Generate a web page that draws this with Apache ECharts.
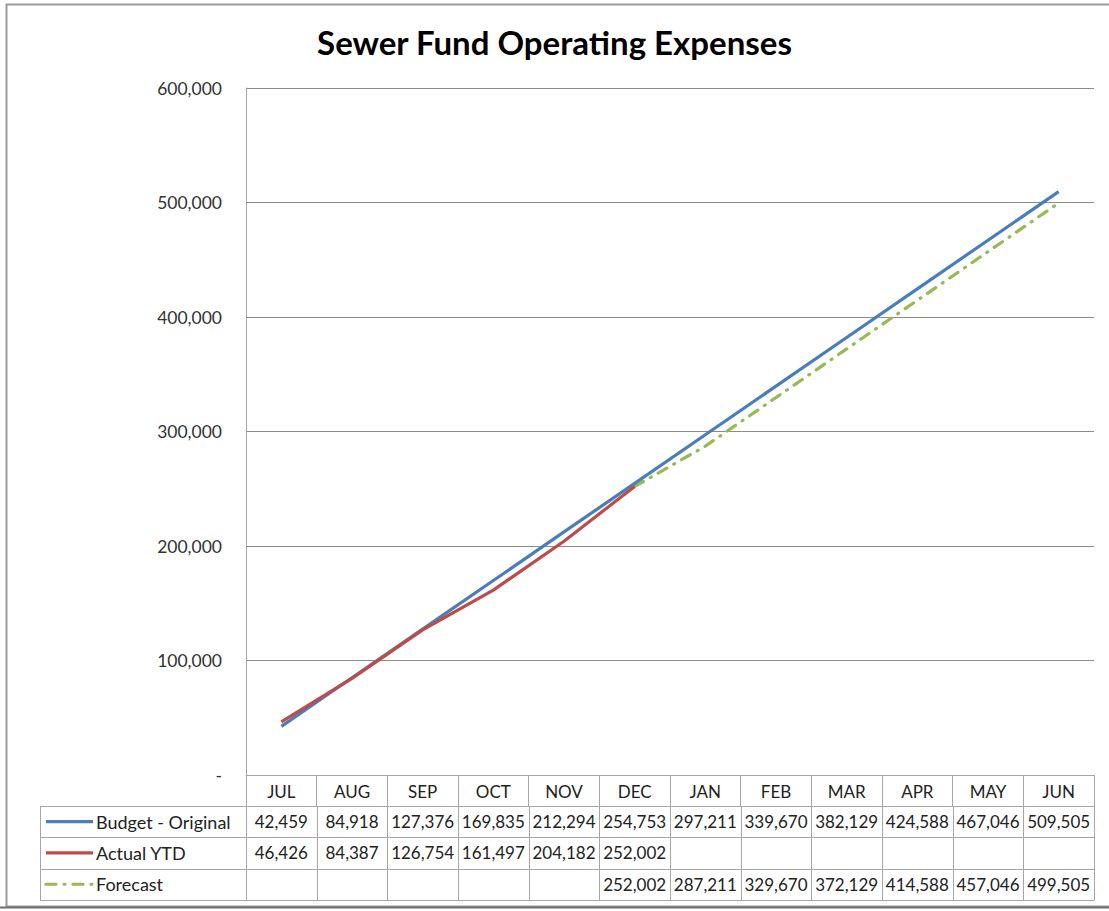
<!DOCTYPE html>
<html>
<head>
<meta charset="utf-8">
<script src="https://cdn.jsdelivr.net/npm/echarts@6/dist/echarts.min.js"></script>
<style>
html,body{margin:0;padding:0;background:#fff;}
#main{width:1109px;height:911px;}
</style>
</head>
<body>
<div id="main"></div>
<script>
var categories = ['JUL','AUG','SEP','OCT','NOV','DEC','JAN','FEB','MAR','APR','MAY','JUN'];
var budget = [42459,84918,127376,169835,212294,254753,297211,339670,382129,424588,467046,509505];
var actual = [46426,84387,126754,161497,204182,252002,null,null,null,null,null,null];
var forecast = [null,null,null,null,null,252002,287211,329670,372129,414588,457046,499505];
var seriesNames = ['Budget - Original','Actual YTD','Forecast'];
var yTicks = [0,100000,200000,300000,400000,500000,600000];

var FONT = 'Lato, "Open Sans", sans-serif';
var colors = ['#4A7EBB','#BE4B48','#98B954'];
var fmt = function(v){ return v.toLocaleString('en-US'); };
var DASH = [10,8,1,8];

var chart = echarts.init(document.getElementById('main'), null, {renderer:'svg'});
var G = {left:246, right:15, top:88, bottom:136};

var option = {
  animation:false,
  backgroundColor:'#fff',
  title:{text:'Sewer Fund Operating Expenses', left:'center', top:20,
    textStyle:{fontFamily:FONT, fontSize:33, fontWeight:'bold', color:'#000'}},
  grid:{left:G.left, right:G.right, top:G.top, bottom:G.bottom, containLabel:false},
  xAxis:{type:'category', data:categories, boundaryGap:true,
    axisLine:{lineStyle:{color:'#a6a6a6', width:1}},
    axisTick:{show:true, length:31, interval:0, lineStyle:{color:'#a6a6a6'}},
    axisLabel:{interval:0, margin:8, fontFamily:FONT, fontSize:17, color:'#222'},
    splitLine:{show:false}},
  yAxis:{type:'value', min:yTicks[0], max:yTicks[yTicks.length-1], interval:100000,
    axisLine:{show:true, lineStyle:{color:'#a6a6a6'}},
    axisTick:{show:false},
    axisLabel:{margin:24, fontFamily:FONT, fontSize:17.5, color:'#333',
      formatter:function(v){ return v===0 ? '-' : fmt(v); }},
    splitLine:{lineStyle:{color:'#8c8c8c', width:1}}},
  series:[
    {name:seriesNames[0], type:'line', data:budget, symbol:'none', z:3,
      lineStyle:{color:colors[0], width:3.2}},
    {name:seriesNames[1], type:'line', data:actual, symbol:'none', z:4,
      lineStyle:{color:colors[1], width:3.2}},
    {name:seriesNames[2], type:'line', data:forecast, symbol:'none', z:2,
      lineStyle:{color:colors[2], width:3.2, type:DASH, cap:'round'}}
  ]
};
chart.setOption(option);

// Build the data table below the axis
function buildTable(){
  var rows = [budget, actual, forecast];
  var rowTop = 806, rowH = 31.3;
  var tableLeft = 40;
  var x0 = chart.convertToPixel({xAxisIndex:0}, 0);
  var x1 = chart.convertToPixel({xAxisIndex:0}, 1);
  var cw = x1 - x0;
  var gridLeft = x0 - cw/2;
  var gridRight = gridLeft + cw*categories.length;
  var els = [];
  var lc = '#a6a6a6';
  for (var r=0; r<=rows.length; r++){
    var y = Math.round(rowTop + r*rowH)+0.5;
    els.push({type:'line', shape:{x1:tableLeft, y1:y, x2:gridRight, y2:y}, style:{stroke:lc, lineWidth:1}});
  }
  var yb = Math.round(rowTop + rows.length*rowH)+0.5;
  els.push({type:'line', shape:{x1:tableLeft+0.5, y1:rowTop, x2:tableLeft+0.5, y2:yb}, style:{stroke:lc, lineWidth:1}});
  for (var i=0;i<=categories.length;i++){
    var x = Math.round(gridLeft + i*cw)+0.5;
    els.push({type:'line', shape:{x1:x, y1:rowTop, x2:x, y2:yb}, style:{stroke:lc, lineWidth:1}});
  }
  for (var r=0; r<rows.length; r++){
    var cy = rowTop + r*rowH + rowH/2;
    var ls = {stroke:colors[r], lineWidth:3.2};
    if (r===2){ ls.lineDash=DASH; ls.lineCap='round'; }
    els.push({type:'line', shape:{x1:46, y1:cy, x2:93, y2:cy}, style:ls});
    els.push({type:'text', x:96, y:cy, style:{text:seriesNames[r], fontFamily:FONT, fontSize:18, fill:'#222', textVerticalAlign:'middle', verticalAlign:'middle'}});
    for (var c=0;c<categories.length;c++){
      var v = rows[r][c];
      if (v===null) continue;
      var cx = chart.convertToPixel({xAxisIndex:0}, c);
      els.push({type:'text', x:cx, y:cy, style:{text:fmt(v), fontFamily:FONT, fontSize:17, fill:'#222', align:'center', textAlign:'center', verticalAlign:'middle', textVerticalAlign:'middle'}});
    }
  }
  els.push({type:'rect', shape:{x:6.5, y:4.5, width:1120, height:902}, style:{fill:null, stroke:'#9a9a9a', lineWidth:2}, silent:true});
  els.push({type:'line', shape:{x1:0, y1:907.5, x2:1109, y2:907.5}, style:{stroke:'#6e6e6e', lineWidth:2}});
  chart.setOption({graphic:{elements:els}});
}
buildTable();
</script>
</body>
</html>
